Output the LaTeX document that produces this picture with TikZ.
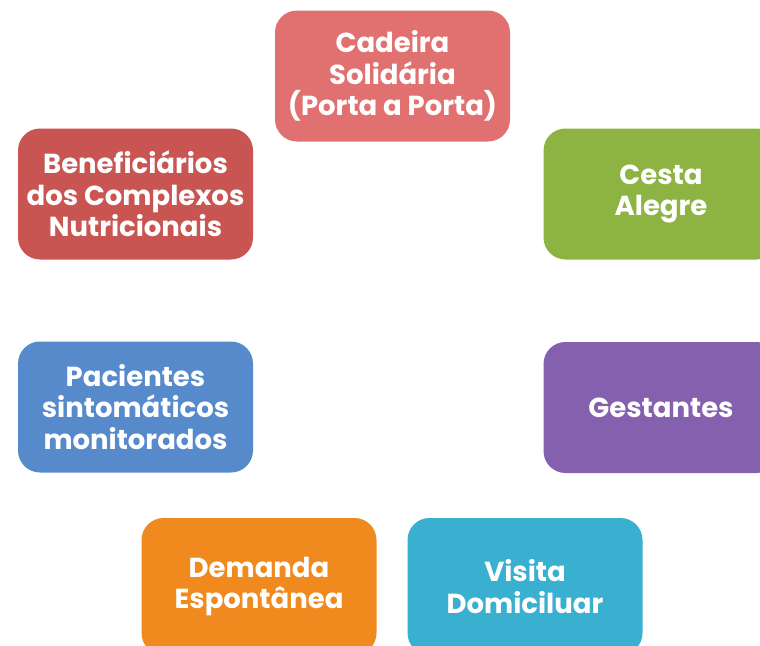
\documentclass[tikz,border=0pt]{standalone}
\usepackage{fontspec}
\setmainfont{Poppins}
\begin{document}
\begin{tikzpicture}[x=1pt,y=-1pt,
  box/.style={rounded corners=22pt, minimum width=235pt, minimum height=131pt,
    inner sep=0pt, align=center, text=white,
    font=\fontsize{27.5}{31.5}\selectfont\bfseries},
  lowbox/.style={box, minimum height=137pt}]
\definecolor{cA}{HTML}{E07170}
\definecolor{cB}{HTML}{8DB443}
\definecolor{cC}{HTML}{8560AE}
\definecolor{cD}{HTML}{39B0D0}
\definecolor{cE}{HTML}{F08A1F}
\definecolor{cF}{HTML}{568ACB}
\definecolor{cG}{HTML}{C95553}
\useasboundingbox (0,0) rectangle (760,645);
\node[box, fill=cA] (cadeira) at (392.5,76) {Cadeira\\Solidária\\(Porta a Porta)};
\node[box, fill=cB] (cesta) at (661,194) {Cesta\\Alegre};
\node[box, fill=cC] (gest) at (661,407.5) {Gestantes};
\node[lowbox, fill=cD] (visita) at (525,586.5) {Visita\\Domiciluar};
\node[lowbox, fill=cE] (demanda) at (259,586.5) {Demanda\\Espontânea};
\node[box, fill=cF] (pac) at (135.5,407) {Pacientes\\sintomáticos\\monitorados};
\node[box, fill=cG] (benef) at (135.5,194) {Beneficiários\\dos Complexos\\Nutricionais};
\end{tikzpicture}
\end{document}
